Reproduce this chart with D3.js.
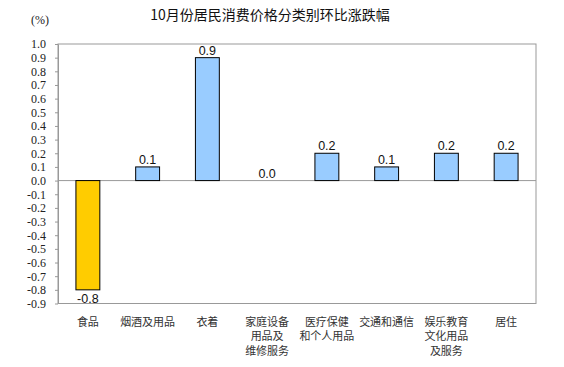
<!DOCTYPE html>
<html><head><meta charset="utf-8">
<script src="https://cdn.jsdelivr.net/npm/d3@7"></script>
<style>body{margin:0;background:#fff}svg{display:block}</style>
</head><body>
<script>
const categories = ["食品","烟酒及用品","衣着","家庭设备\n用品及\n维修服务","医疗保健\n和个人用品","交通和通信","娱乐教育\n文化用品\n及服务","居住"];
const values = [-0.8,0.1,0.9,0.0,0.2,0.1,0.2,0.2];
const barColors = ["#FFCC00","#99CCFF","#99CCFF","#99CCFF","#99CCFF","#99CCFF","#99CCFF","#99CCFF"];
const yTicks = [1.0,0.9,0.8,0.7,0.6,0.5,0.4,0.3,0.2,0.1,0.0,-0.1,-0.2,-0.3,-0.4,-0.5,-0.6,-0.7,-0.8,-0.9];
const title = "10月份居民消费价格分类别环比涨跌幅";
const unit = "(%)";

(function(){
const W=564,H=367;
const svg=d3.select("body").append("svg").attr("width",W).attr("height",H);
const pL=58,pR=536,pT=44,pB=303.5;
const x=d3.scaleBand().domain(categories).range([pL,pR]).paddingInner(0.6).paddingOuter(0.3);
const y=d3.scaleLinear().domain([-0.9,1.0]).range([pB,pT]);

svg.append("text").attr("x",270).attr("y",20).attr("text-anchor","middle")
  .attr("font-family","'Noto Sans CJK SC',sans-serif").attr("font-size",14).attr("fill","#111").text(title);
svg.append("text").attr("x",40).attr("y",24).attr("text-anchor","middle")
  .attr("font-family","'Liberation Serif',serif").attr("font-size",12).attr("fill","#222").text(unit);

svg.append("rect").attr("x",pL).attr("y",pT).attr("width",pR-pL).attr("height",pB-pT)
  .attr("fill","none").attr("stroke","#999").attr("stroke-width",1);

svg.append("line").attr("x1",pL).attr("x2",pR).attr("y1",y(0)).attr("y2",y(0))
  .attr("stroke","#999").attr("stroke-width",1);

const yAxis=d3.axisLeft(y).tickValues(yTicks).tickSize(3).tickSizeOuter(0).tickPadding(9).tickFormat(d3.format(".1f"));
const ga=svg.append("g").attr("transform",`translate(${pL},0)`).call(yAxis);
ga.select(".domain").attr("stroke","#999");
ga.selectAll(".tick line").attr("stroke","#999");
ga.selectAll(".tick text").attr("font-family","'Liberation Serif',serif").attr("font-size",12).attr("fill","#222")
  .text(d=>d3.format(".1f")(d).replace("−","-"));

svg.selectAll("rect.bar").data(values).join("rect").attr("class","bar")
  .attr("x",(d,i)=>x(categories[i])).attr("width",x.bandwidth())
  .attr("y",d=>y(Math.max(0,d))).attr("height",d=>Math.abs(y(d)-y(0)))
  .attr("fill",(d,i)=>barColors[i]).attr("stroke","#000").attr("stroke-width",1);

svg.selectAll("text.val").data(values).join("text").attr("class","val")
  .attr("x",(d,i)=>x(categories[i])+x.bandwidth()/2)
  .attr("y",d=>d<0?y(d)+13:y(d)-3)
  .attr("text-anchor","middle").attr("font-family","'Liberation Sans',Arial,sans-serif").attr("font-size",12.5).attr("fill","#111")
  .text(d=>d3.format(".1f")(d).replace("−","-"));

categories.forEach((c,i)=>{
  const cx=x(c)+x.bandwidth()/2;
  const t=svg.append("text").attr("x",cx).attr("y",326).attr("text-anchor","middle")
    .attr("font-family","'Noto Sans CJK SC',sans-serif").attr("font-size",11).attr("fill","#333");
  c.split("\n").forEach((l,j)=>t.append("tspan").attr("x",cx).attr("dy",j?14.3:0).text(l));
});
})();
</script>
</body></html>
